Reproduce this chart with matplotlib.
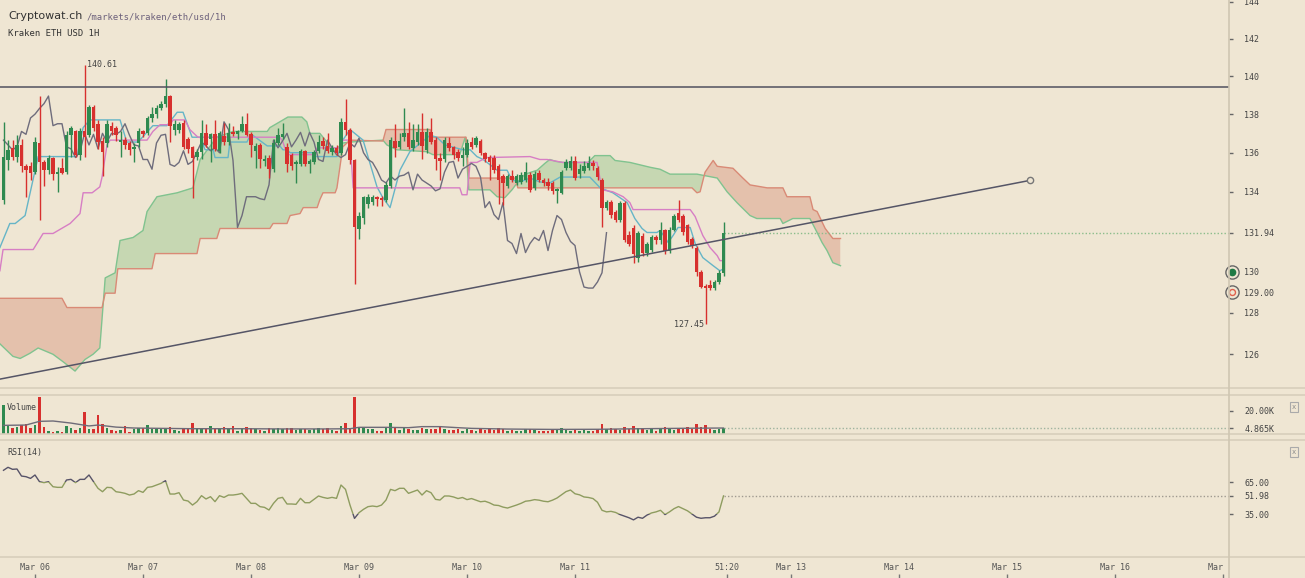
import numpy as np
import matplotlib
matplotlib.use('Agg')
import matplotlib.pyplot as plt
from matplotlib.patches import Polygon, Rectangle
from matplotlib.lines import Line2D
from matplotlib.transforms import Bbox, TransformedBbox

plt.rcParams['font.family'] = ['DejaVu Sans Mono']

# ---- hourly candles, Kraken ETH/USD (hour 0 = Mar 06 00:00) ----
opens = [
    133.6, 135.6, 136.25, 135.8, 136.4, 135.3, 135.3, 135.0, 136.5, 135.5,
    135.1, 135.75, 134.9, 135.2, 135.0, 136.9, 137.1, 135.9, 137.1, 136.9,
    138.35, 137.5, 136.6, 136.5, 137.4, 137.3, 136.55, 136.65, 136.5, 136.2,
    136.5, 137.1, 137.0, 137.8, 138.0, 138.3, 138.55, 138.95, 137.2, 137.15,
    137.55, 136.7, 136.3, 135.8, 136.05, 137.0, 136.7, 136.95, 136.1, 136.85,
    136.55, 137.05, 136.95, 137.1, 137.5, 136.95, 136.1, 136.4, 135.55, 135.75,
    135.15, 136.5, 136.8, 136.3, 135.9, 135.4, 135.4, 136.1, 135.4, 135.5,
    136.1, 136.6, 136.35, 136.05, 136.25, 136.0, 137.6, 137.2, 135.6, 132.1,
    132.7, 133.4, 133.5, 133.75, 133.7, 133.6, 134.3, 136.6, 136.3, 136.8,
    137.0, 136.25, 136.55, 137.05, 136.15, 137.05, 136.65, 135.75, 135.65, 136.5,
    136.3, 136.05, 135.75, 135.9, 136.55, 136.4, 136.6, 136.0, 135.8, 135.75,
    135.3, 134.8, 134.3, 134.8, 134.45, 134.5, 134.6, 134.85, 134.2, 134.95,
    134.6, 134.5, 134.45, 134.05, 133.95, 135.2, 135.2, 135.55, 134.9, 135.05,
    135.2, 135.45, 135.2, 134.6, 133.2, 133.5, 133.0, 132.6, 133.45, 131.8,
    132.15, 130.7, 131.75, 130.95, 131.1, 131.7, 131.55, 132.05, 131.05, 132.05,
    132.95, 132.8, 132.3, 131.6, 131.2, 130.0, 129.3, 129.35, 129.2, 129.5,
    129.95]
highs = [
    137.6, 136.65, 136.65, 136.9, 136.7, 135.4, 135.5, 136.8, 138.95, 135.6,
    135.9, 135.8, 135.25, 135.75, 137.1, 137.4, 137.2, 137.3, 140.61, 138.5,
    138.5, 137.7, 136.8, 137.7, 137.6, 137.4, 137.1, 136.8, 136.6, 136.5,
    137.3, 137.2, 137.9, 138.4, 138.5, 138.7, 139.85, 139.0, 137.7, 137.6,
    137.7, 136.8, 136.35, 136.2, 137.7, 137.5, 137.0, 137.7, 137.1, 137.55,
    137.55, 137.4, 137.2, 137.9, 138.05, 137.05, 136.5, 136.5, 135.9, 135.9,
    136.7, 137.3, 137.55, 136.5, 136.0, 135.6, 136.2, 136.15, 135.65, 136.15,
    136.9, 136.8, 137.0, 136.4, 136.4, 137.8, 138.8, 137.3, 135.7, 133.0,
    133.8, 133.9, 133.85, 133.8, 133.8, 134.5, 136.8, 137.5, 137.0, 138.3,
    137.6, 137.5, 137.5, 138.05, 137.3, 137.8, 136.8, 136.0, 136.8, 136.8,
    136.35, 136.2, 136.3, 136.7, 136.8, 136.85, 136.7, 136.05, 135.9, 135.9,
    135.4, 134.9, 134.9, 135.1, 134.9, 135.0, 135.5, 135.0, 135.05, 135.1,
    134.7, 134.7, 134.55, 134.2, 135.1, 135.7, 135.85, 135.85, 135.4, 135.55,
    135.85, 135.6, 135.3, 134.7, 133.6, 133.6, 133.1, 133.55, 133.55, 132.0,
    132.3, 132.0, 131.9, 131.5, 131.8, 131.8, 132.5, 132.1, 132.2, 132.9,
    133.6, 132.9, 132.4, 131.7, 131.3, 130.1, 129.4, 129.6, 129.6, 130.1,
    132.5]
lows = [
    133.4, 135.1, 135.6, 135.5, 135.0, 133.75, 134.6, 134.9, 132.6, 134.3,
    134.9, 134.6, 134.0, 134.9, 134.9, 135.8, 135.8, 135.6, 135.8, 136.8,
    137.1, 136.2, 134.8, 136.3, 136.9, 136.6, 135.8, 136.2, 135.9, 135.5,
    136.3, 136.8, 136.9, 137.6, 137.8, 138.2, 138.4, 136.55, 136.9, 137.0,
    136.2, 136.0, 133.7, 135.6, 135.65, 136.3, 135.5, 136.1, 136.0, 136.4,
    136.4, 136.85, 136.7, 137.05, 136.85, 135.8, 135.2, 135.2, 135.3, 134.7,
    135.0, 136.4, 136.7, 135.0, 135.1, 134.45, 135.3, 135.3, 134.95, 135.4,
    136.0, 136.2, 136.0, 135.9, 135.9, 135.9, 136.9, 135.4, 129.4, 131.6,
    132.4, 133.2, 133.35, 133.3, 133.3, 133.5, 134.2, 135.8, 136.2, 136.6,
    136.2, 136.1, 136.4, 135.65, 136.0, 136.45, 135.1, 134.6, 135.5, 136.1,
    135.7, 135.55, 135.3, 135.8, 136.2, 136.3, 135.9, 135.5, 134.6, 134.95,
    133.4, 133.35, 134.2, 134.5, 134.35, 134.4, 134.5, 134.0, 134.1, 134.5,
    134.3, 134.1, 133.9, 133.45, 133.9, 135.1, 135.1, 134.6, 134.7, 134.95,
    135.1, 135.1, 134.6, 132.2, 133.1, 132.7, 132.5, 132.5, 131.5, 131.3,
    130.45, 130.5, 130.8, 130.8, 131.0, 131.4, 131.4, 130.9, 130.95, 132.0,
    132.5, 131.8, 131.4, 131.2, 129.8, 129.2, 127.45, 129.1, 129.1, 129.4,
    129.8]
closes = [
    135.8, 136.15, 135.8, 136.4, 135.3, 135.1, 134.95, 136.55, 135.5, 135.1,
    135.75, 134.9, 135.0, 134.95, 136.9, 137.3, 135.9, 137.1, 136.8, 138.35,
    137.3, 136.55, 136.05, 137.5, 137.1, 136.9, 136.65, 136.4, 136.15, 136.3,
    137.1, 136.95, 137.8, 138.0, 138.3, 138.55, 138.95, 137.4, 137.5, 137.5,
    136.3, 136.2, 135.75, 136.05, 137.0, 136.4, 136.95, 136.2, 137.0, 136.55,
    137.0, 136.95, 137.1, 137.5, 136.9, 136.4, 136.35, 135.65, 135.65, 135.15,
    136.5, 136.9, 136.95, 135.4, 135.3, 135.5, 136.1, 135.4, 135.55, 136.05,
    136.55, 136.35, 136.1, 136.25, 136.0, 137.6, 137.2, 135.6, 132.2, 132.8,
    133.75, 133.75, 133.75, 133.65, 133.6, 134.35, 136.65, 136.25, 136.6, 137.0,
    136.3, 136.65, 137.05, 136.35, 137.05, 136.55, 135.65, 135.55, 136.65, 136.25,
    135.9, 135.75, 135.9, 136.5, 136.3, 136.75, 136.0, 135.65, 135.5, 135.1,
    134.6, 134.45, 134.8, 134.6, 134.8, 134.85, 135.0, 134.1, 134.9, 134.6,
    134.45, 134.3, 134.05, 134.15, 135.0, 135.5, 135.55, 134.7, 135.15, 135.3,
    135.45, 135.3, 134.75, 133.2, 133.5, 132.85, 132.6, 133.45, 131.55, 131.4,
    130.9, 131.9, 130.95, 131.4, 131.7, 131.55, 132.05, 131.05, 132.05, 132.8,
    132.6, 131.95, 131.5, 131.3, 130.0, 129.25, 129.2, 129.2, 129.5, 129.95,
    131.94]

# volume in thousands
volume = [
    25.2, 7.2, 4.9, 6.4, 7.8, 8.4, 4.9, 7.8, 32.5, 6.4,
    2.6, 2.0, 2.6, 2.0, 7.2, 5.5, 3.5, 5.5, 18.8, 4.3,
    4.1, 16.5, 8.4, 5.5, 3.5, 2.6, 3.5, 6.7, 2.0, 4.1,
    4.9, 5.5, 7.8, 4.1, 4.3, 4.9, 4.3, 5.8, 3.5, 2.6,
    4.1, 4.9, 9.9, 4.9, 4.9, 4.1, 7.2, 4.9, 4.1, 6.4,
    4.3, 7.2, 2.9, 4.9, 5.8, 4.9, 4.1, 3.5, 2.6, 5.5,
    4.1, 4.9, 4.3, 4.9, 4.9, 3.5, 4.1, 4.1, 3.5, 4.1,
    4.9, 4.1, 4.9, 3.5, 2.6, 7.2, 9.9, 5.5, 32.5, 5.5,
    5.5, 4.1, 4.1, 2.6, 2.6, 4.9, 9.9, 6.4, 3.5, 6.4,
    4.1, 3.5, 3.5, 5.5, 4.1, 4.1, 4.1, 6.4, 4.1, 3.5,
    3.5, 4.1, 3.0, 4.5, 3.5, 3.0, 4.1, 3.5, 4.5, 3.5,
    5.5, 4.5, 3.0, 3.5, 2.6, 3.0, 4.5, 4.1, 3.5, 3.0,
    2.6, 3.0, 3.5, 4.1, 5.0, 3.5, 3.0, 4.5, 3.0, 3.5,
    3.0, 2.6, 4.5, 9.0, 4.1, 5.0, 4.1, 3.5, 6.5, 4.5,
    7.0, 5.0, 5.5, 3.5, 4.1, 3.0, 4.5, 6.0, 4.5, 3.5,
    5.0, 4.5, 6.0, 4.5, 8.5, 6.0, 7.5, 4.1, 3.5, 4.5,
    4.865]
vol_ma_h = [-7, -2, 1, 4, 8, 12, 14, 18, 22, 28, 35, 45, 55, 65, 70, 72, 78, 83,
            86, 90, 94, 97, 105, 115, 125, 135, 145, 153]
vol_ma = [7.5, 7.8, 11.0, 11.3, 9.5, 7.0, 7.8, 6.0, 5.2, 4.9, 4.6, 4.6, 4.4, 4.4,
          4.6, 5.8, 5.8, 5.5, 6.4, 6.4, 5.5, 4.9, 4.3, 4.0, 4.1, 4.6, 5.0, 5.2]

rsi = [
    76.0, 78.8, 76.9, 77.2, 70.6, 70.0, 68.4, 71.6, 65.3, 64.4,
    65.3, 60.6, 60.0, 60.0, 66.9, 67.5, 64.4, 67.5, 67.5, 71.6,
    65.3, 59.1, 55.9, 60.0, 59.7, 55.9, 55.3, 54.4, 52.8, 53.75,
    56.9, 55.3, 60.0, 60.6, 62.2, 63.75, 66.25, 53.75, 53.75, 55.0,
    48.1, 47.2, 43.4, 46.6, 52.2, 49.1, 51.25, 46.6, 52.2, 50.6,
    52.8, 52.8, 53.4, 54.4, 49.7, 45.0, 45.0, 41.9, 41.25, 38.75,
    45.0, 49.7, 50.6, 44.4, 44.4, 44.1, 49.7, 45.6, 45.6, 48.75,
    51.9, 50.6, 49.7, 50.6, 49.7, 62.2, 58.1, 43.4, 30.9, 36.25,
    39.4, 41.9, 42.5, 41.9, 43.4, 48.1, 58.1, 56.9, 59.1, 59.1,
    54.4, 55.9, 57.5, 52.8, 56.9, 55.0, 48.75, 48.1, 51.9, 51.9,
    51.0, 49.5, 50.5, 48.5, 49.5, 48.0, 46.5, 47.0, 45.5, 43.4,
    43.0, 41.5, 40.6, 42.0, 43.4, 45.0, 47.0, 47.5, 48.5, 48.0,
    47.0, 46.5, 48.0, 50.0, 53.0, 56.0, 57.5, 54.0, 53.0, 51.0,
    50.5, 49.5, 46.0, 38.5, 37.0, 37.5, 36.5, 34.5, 33.0, 31.5,
    29.5, 32.0, 31.0, 34.0, 36.0, 37.0, 38.5, 34.5, 37.0, 40.0,
    42.0, 40.0, 38.0, 35.0, 32.0, 31.0, 31.5, 31.5, 33.0, 37.0,
    51.98]

# ichimoku lines: (hour, price)
tenkan_h = [-7.8, -5.6, -4.4, -2.2, 0.7, 9.3, 10.7, 12.2, 18.9, 20.4, 22.9, 26.2, 29.3,
            31.6, 32.9, 34.9, 36.7, 37.8, 39.6, 40, 42.9, 43.3, 47.1, 47.8, 48.4, 51.6,
            54.4, 55.1, 56, 56.7, 61.8, 62.2, 67.1, 67.8, 68.4, 70, 72.9, 76, 77.3, 78.9,
            81.1, 83.3, 87.8, 89.3, 91.1, 95.1, 96.7, 98.2, 99.6, 102.7, 104.9, 106,
            107.8, 110, 112.2, 114.4, 116.7, 123.3, 125.6, 128.4, 131.6, 133.3, 134.9,
            136, 138.2, 138.9, 140, 140.7, 141.8, 142.9, 145.6, 146.7, 148.4, 150.7,
            152.2, 153]
tenkan = [131.2, 132.4, 132.4, 132.8, 135.8, 135.8, 137.3, 137.7, 137.7, 136.55, 136.55,
          137.4, 137.4, 138.1, 138.1, 136.8, 136.8, 136.15, 136.15, 135.75, 135.75,
          136.55, 136.55, 136.9, 136.9, 136.35, 136.35, 136.15, 136.15, 136.0, 136.0,
          135.8, 135.8, 136.15, 136.65, 137.2, 136.65, 134.25, 133.7, 133.2, 135.1,
          136.05, 136.9, 136.8, 136.4, 136.15, 136.15, 135.8, 135.65, 135.1, 135.1,
          134.6, 134.5, 134.7, 134.5, 134.45, 134.75, 134.75, 134.2, 133.95, 133.45,
          132.65, 132.15, 131.95, 131.95, 132.05, 131.7, 131.45, 131.8, 132.2, 132.2,
          131.4, 130.7, 130.3, 130.05, 130.15]
kijun_h = [-7.8, -7.1, -0.4, 1.8, 4, 7.8, 10, 10.7, 12.7, 14.4, 14.9, 16, 16.7, 24.9,
           26.2, 27.8, 30, 30.7, 33.3, 34.4, 36.2, 54.4, 55.1, 56, 61.8, 62.7, 67.8,
           68.4, 70, 70.7, 94.4, 94.9, 96, 96.7, 98.2, 100.4, 110, 112.2, 113.8, 117.3,
           124.9, 126, 128.4, 130.7, 132.2, 132.9, 145.6, 146.7, 148.4, 150, 151.6,
           152.2, 153]
kijun = [130.05, 131.1, 131.1, 131.9, 131.9, 132.4, 132.9, 133.95, 133.95, 134.25,
         134.75, 136.4, 136.65, 136.65, 137.1, 137.45, 137.45, 137.7, 137.7, 137.2,
         136.8, 136.8, 136.55, 135.9, 135.9, 136.25, 136.25, 136.65, 136.65, 134.2,
         134.2, 133.85, 133.85, 135.5, 135.5, 135.75, 135.8, 135.65, 135.65, 135.5,
         135.5, 134.1, 134.0, 133.75, 133.45, 133.1, 133.1, 132.75, 131.8, 131.2,
         130.8, 130.55, 130.55]
span_a_h = [-7.8, -4.9, -3.3, -1.1, 0.7, 4, 6.2, 8.9, 11.1, 12.9, 14.4, 15.6, 17.8, 18.9,
            21.8, 24, 24.9, 27.1, 31.6, 35.1, 36.7, 40.4, 44, 51.6, 52.2, 54.4, 56.2,
            59.3, 60.4, 61.1, 63.3, 64, 64.9, 65.6, 67.3, 68.4, 70, 77.3, 78.2, 80.4,
            87.1, 88.4, 94.4, 95.6, 96.4, 101.1, 102.7, 104.4, 106, 107.3, 108.9, 111.6,
            113.3, 114.4, 115.8, 117.3, 122.9, 124.4, 127.8, 128.9, 132.2, 136.7, 138.9,
            141.1, 147.1, 151.6, 153.8, 156, 158.9, 160.4, 165.6, 166.2, 168.4, 172.2,
            173.8, 174.9, 176, 177.3, 179]
span_a = [126.5, 125.9, 125.8, 126.05, 126.3, 126.0, 125.65, 125.2, 125.75, 126.0, 126.3,
          129.7, 129.95, 131.55, 131.7, 132.05, 133.0, 133.75, 133.95, 134.2, 135.65,
          136.8, 137.1, 137.1, 137.3, 137.6, 137.85, 137.85, 137.6, 137.0, 137.0, 136.8,
          136.55, 136.25, 136.25, 136.5, 136.55, 136.65, 136.4, 136.15, 136.05, 135.9,
          135.9, 136.8, 134.1, 134.1, 133.75, 133.7, 134.1, 134.5, 134.9, 135.1, 135.45,
          135.65, 135.55, 135.5, 135.5, 135.85, 135.85, 135.6, 135.5, 135.25, 135.15,
          134.9, 134.9, 134.7, 134.0, 133.45, 132.8, 132.65, 132.65, 132.4, 132.65,
          132.65, 131.95, 131.45, 131.05, 130.45, 130.3]
span_b_h = [-7.8, 6, 7.1, 14.9, 15.6, 17.8, 18.4, 26, 26.7, 36, 36.7, 40.4, 41.1, 52.2,
            52.9, 56, 56.7, 58.9, 59.6, 62.7, 63.3, 64, 66.7, 67.1, 68.4, 70, 77.3, 78,
            87.8, 88.2, 95.8, 96.4, 106.7, 107.3, 146, 147.1, 147.8, 148.9, 150.7, 151.6,
            155.1, 157.3, 158.9, 162.7, 166.2, 167.1, 172.2, 172.9, 173.8, 175.6, 177.3,
            179]
span_b = [128.7, 128.7, 128.25, 128.25, 128.95, 128.95, 130.15, 130.15, 130.9, 130.9,
          131.65, 131.65, 132.15, 132.15, 132.4, 132.4, 132.8, 132.9, 133.2, 133.2, 133.6,
          133.95, 133.95, 134.2, 136.3, 136.65, 136.6, 137.2, 137.2, 136.8, 136.8, 134.7,
          134.7, 134.2, 134.2, 133.95, 134.0, 135.0, 135.6, 135.3, 135.2, 134.7, 134.35,
          134.2, 134.2, 133.75, 133.75, 133.1, 133.0, 132.15, 131.65, 131.65]

x_ticks = [0, 24, 48, 72, 96, 120, 153.8, 168, 192, 216, 240, 264]
x_labels = ['Mar 06', 'Mar 07', 'Mar 08', 'Mar 09', 'Mar 10', 'Mar 11', '51:20',
            'Mar 13', 'Mar 14', 'Mar 15', 'Mar 16', 'Mar 17']

for arr in (highs, lows, closes, volume, rsi):
    assert len(arr) == len(opens), len(arr)

BG = '#efe6d3'
UP = '#2f8a50'
DOWN = '#d7302e'
W, H = 1305, 578
XMIN, XMAX = -35 / 4.5, 1194 / 4.5

o, hi, lo, c = map(np.array, (opens, highs, lows, closes))
hours = np.arange(len(c)) - 7
cols = np.where(c >= o, UP, DOWN)

fig = plt.figure(figsize=(W / 100, H / 100), dpi=100, facecolor=BG)


def panel(top, bottom):
    a = fig.add_axes([0, 1 - bottom / H, 1229 / W, (bottom - top) / H])
    a.patch.set_visible(False)
    for s in a.spines.values():
        s.set_visible(False)
    a.set_xlim(XMIN, XMAX)
    a.tick_params(axis='x', bottom=False, labelbottom=False)
    a.yaxis.tick_right()
    a.tick_params(axis='y', direction='out', length=3, width=1, color='#666',
                  pad=8, labelsize=6, labelcolor='#444')
    return a


ax = panel(0, 388)
axv = panel(395, 434)
axr = panel(440, 557)

# ---- main panel ----
ax.set_yscale('log')
ax.set_ylim(124.4, 144.1)

A = np.column_stack([span_a_h, span_a])
B = np.column_stack([span_b_h, span_b])
cloud = np.vstack([A, B[::-1]])
for line, colr in ((B, '#c6d7b2'), (A, '#e4c1ac')):
    clip = Polygon(np.vstack([line, [[line[-1, 0], 1000], [line[0, 0], 1000]]]),
                   closed=True, transform=ax.transData)
    p = Polygon(cloud, closed=True, fc=colr, ec='none', zorder=1)
    ax.add_patch(p)
    p.set_clip_path(clip)
ax.plot(span_a_h, span_a, color='#80c38f', lw=1, zorder=1.5)
ax.plot(span_b_h, span_b, color='#d98a76', lw=1, zorder=1.5)

ax.plot(tenkan_h, tenkan, color='#66b5c7', lw=1, zorder=2.5)
ax.plot(kijun_h, kijun, color='#d77ec4', lw=1, zorder=2.5)
ax.plot(hours[:-26], c[26:], color='#6e6c7c', lw=1, zorder=2.5)

ax.axhline(139.42, color='#50505e', lw=1.1, zorder=4)
ax.plot([XMIN, 221.1], [124.82, 134.58], color='#555566', lw=1.1, zorder=4)
ax.plot(221.1, 134.58, 'o', ms=4.5, mfc=BG, mec='#777', mew=1, zorder=5)
ax.plot([153, XMAX], [c[-1]] * 2, ls=(0, (1, 1.5)), color='#8bbd8b', lw=1, zorder=2)

ax.vlines(hours, lo, hi, colors=cols, lw=1, zorder=3)
ax.bar(hours, np.maximum(np.abs(c - o), 0.03), bottom=np.minimum(o, c), width=0.7,
       color=cols, lw=0, zorder=3.1)

ax.text(11.5, 140.61, '140.61', fontsize=6, color='#444', va='center', ha='left')
ax.text(148.6, 127.45, '127.45', fontsize=6, color='#444', va='center', ha='right')

yt = [126, 128, 129, 130, 131.94, 134, 136, 138, 140, 142, 144]
ylab = ['126', '128', '129.00', '130', '131.94', '134', '136', '138', '140', '142', '144']
ax.set_yticks(yt, ylab)
ax.set_yticks([], minor=True)
for t, v in zip(ax.yaxis.get_major_ticks(), yt):
    if v in (129, 130):
        t.tick2line.set_visible(False)
    if v == 131.94:
        t.tick2line.set_color('#6db36d')

ax.plot(266, 130, 'o', ms=9.5, mfc=BG, mec='#666', mew=1, clip_on=False, zorder=6)
ax.plot(266, 130, 'o', ms=4.5, mfc='#1f7a45', mec='#1f7a45', clip_on=False, zorder=7)
ax.plot(266, 129, 'o', ms=9.5, mfc=BG, mec='#666', mew=1, clip_on=False, zorder=6)
ax.plot(266, 129, 'o', ms=4.3, mfc=BG, mec='#e0604c', mew=1, clip_on=False, zorder=7)

# ---- volume ----
axv.set_ylim(0, 33.9)
axv.bar(hours, volume, width=0.55, color=cols, lw=0)
axv.plot(vol_ma_h, vol_ma, color='#6e6b78', lw=1)
axv.plot([153, XMAX], [volume[-1]] * 2, ls=(0, (1, 1.5)), color='#9fb39f', lw=1)
axv.set_yticks([4.865, 20], ['4.865K', '20.00K'])
axv.yaxis.get_major_ticks()[0].tick2line.set_color('#6db36d')
axv.text(0.0057, 0.67, 'Volume', transform=axv.transAxes, fontsize=6, color='#444',
         va='center', bbox=dict(boxstyle='square,pad=0.15', fc=BG, ec='none', alpha=0.6))

# ---- RSI ----
axr.set_ylim(-5.3, 104.4)
r_hours = np.arange(len(rsi)) - 7
for y0, hgt, colr in ((65, 100, '#575368'), (-20, 55, '#575368'), (35, 30, '#8e9c5f')):
    ln, = axr.plot(r_hours, rsi, color=colr, lw=1)
    ln.set_clip_path(Rectangle((XMIN - 5, y0), 300, hgt, transform=axr.transData))
axr.plot([153, XMAX], [rsi[-1]] * 2, ls=(0, (1, 1.5)), color='#a09a90', lw=1)
axr.set_yticks([35, 51.98, 65], ['35.00', '51.98', '65.00'])
axr.text(0.0057, 0.897, 'RSI(14)', transform=axr.transAxes, fontsize=6, color='#444',
         va='center')

xt = axr.get_xaxis_transform()
clipbox = TransformedBbox(Bbox([[0, 0], [1229 / W, 1]]), fig.transFigure)
for xv, lab in zip(x_ticks, x_labels):
    t = axr.text(xv, -0.087, lab, transform=xt, fontsize=6, color='#555',
                 ha='center', va='center')
    t.set_clip_path(None)
    t.set_clip_box(clipbox)
    t.set_clip_on(True)
axr.vlines(x_ticks, -0.18, -0.145, transform=xt, colors='#777', lw=1, clip_on=False)

# ---- frame lines, titles ----
for yy in (388, 395, 434, 440, 557):
    fig.add_artist(Line2D([0, 1], [1 - yy / H] * 2, transform=fig.transFigure,
                          color='#d8cfbb', lw=1.2))
fig.add_artist(Line2D([1229 / W] * 2, [0, 1], transform=fig.transFigure,
                      color='#cfc6b2', lw=1.2))
for yy in (407, 452):
    fig.text(1294 / W, 1 - yy / H, 'x', fontsize=5, color='#888', ha='center',
             va='center', bbox=dict(boxstyle='square,pad=0.25', fc='none',
                                    ec='#aaa', lw=0.8))

fig.text(8 / W, 1 - 19 / H, 'Cryptowat.ch', family='DejaVu Sans', fontsize=8,
         color='#333', va='baseline')
fig.text(87 / W, 1 - 19 / H, '/markets/kraken/eth/usd/1h', fontsize=6.4,
         color='#6b5f7a', va='baseline')
fig.text(8 / W, 1 - 36.5 / H, 'Kraken ETH USD 1H', fontsize=6.4, color='#333',
         va='baseline')

fig.savefig('out.png', dpi=100, facecolor=fig.get_facecolor())
